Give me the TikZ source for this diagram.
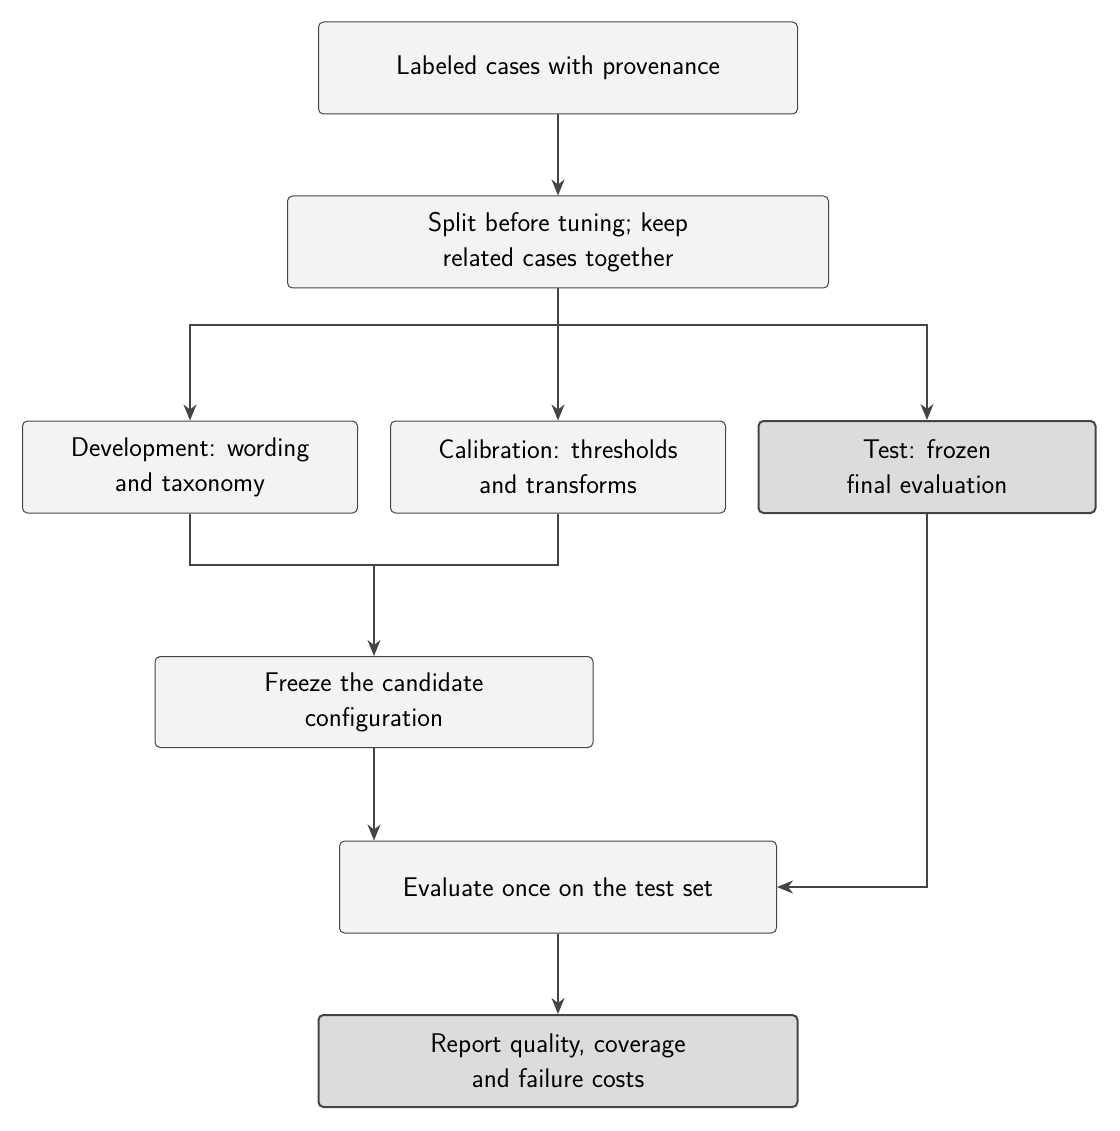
\documentclass[tikz,border=0pt]{standalone}
\usetikzlibrary{arrows.meta}
\definecolor{bfill}{HTML}{F3F3F3}
\definecolor{dfill}{HTML}{DCDCDC}
\definecolor{edge}{HTML}{444444}
\begin{document}
\begin{tikzpicture}[x=1pt,y=-1pt,
  box/.style={draw=edge,fill=bfill,rounded corners=5pt,line width=1pt,align=center,font=\sffamily\fontsize{27}{35}\selectfont,inner sep=0pt},
  dbox/.style={box,fill=dfill,line width=2pt},
  arr/.style={draw=edge,line width=1.5pt,-{Stealth[length=16pt,width=13pt,inset=5pt]}},
  ln/.style={draw=edge,line width=1.5pt}]
\useasboundingbox (0,0) rectangle (1119,1131);
\node[box,minimum width=479pt,minimum height=92pt] (a) at (558,68) {Labeled cases with provenance};
\node[box,minimum width=541pt,minimum height=92pt] (b) at (558,242) {Split before tuning; keep\\related cases together};
\node[box,minimum width=335pt,minimum height=92pt] (d) at (190,467) {Development: wording\\and taxonomy};
\node[box,minimum width=335pt,minimum height=92pt] (c) at (558,467) {Calibration: thresholds\\and transforms};
\node[dbox,minimum width=337pt,minimum height=92pt] (t) at (927,467) {Test: frozen\\final evaluation};
\node[box,minimum width=438pt,minimum height=91pt] (f) at (374,702) {Freeze the candidate\\configuration};
\node[box,minimum width=437pt,minimum height=92pt] (e) at (558,887) {Evaluate once on the test set};
\node[dbox,minimum width=479pt,minimum height=92pt] (r) at (558,1061) {Report quality, coverage\\and failure costs};
\coordinate (s) at (558,325);
\coordinate (m) at (374,565);
\draw[arr] (a) -- (b);
\draw[ln] (b.south) -- (s);
\draw[arr] (s) -| (d.north);
\draw[arr] (s) -- (c.north);
\draw[arr] (s) -| (t.north);
\draw[ln] (d.south) |- (m);
\draw[ln] (c.south) |- (m);
\draw[arr] (m) -- (f.north);
\draw[arr] (f.south) -- (f.south |- e.north);
\draw[arr] (t.south) |- (e.east);
\draw[arr] (e) -- (r);
\end{tikzpicture}
\end{document}
